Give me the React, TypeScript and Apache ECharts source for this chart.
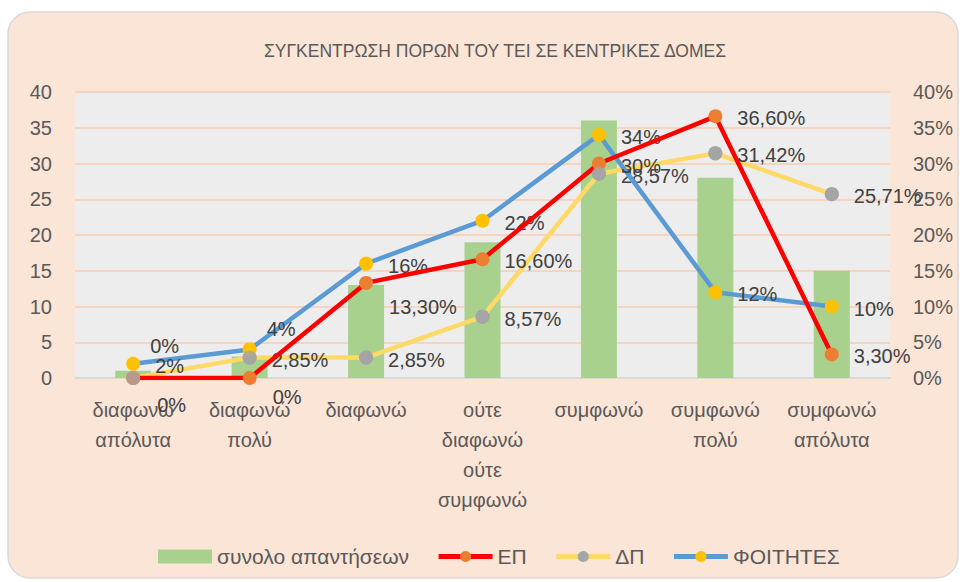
import React, { useEffect, useRef } from 'react';
import * as echarts from 'echarts';

// Response categories (multi-line axis labels)
const categories = [
  'διαφωνώ\nαπόλυτα',
  'διαφωνώ\nπολύ',
  'διαφωνώ',
  'ούτε\nδιαφωνώ\nούτε\nσυμφωνώ',
  'συμφωνώ',
  'συμφωνώ\nπολύ',
  'συμφωνώ\nαπόλυτα',
];

// Total answers per category (left axis)
const totalResponses = [1, 3, 13, 19, 36, 28, 15];

// Percentages per group (right axis, %)
const epShares = [0, 0, 13.3, 16.6, 30, 36.6, 3.3];
const dpShares = [0, 2.85, 2.85, 8.57, 28.57, 31.42, 25.71];
const studentShares = [2, 4, 16, 22, 34, 12, 10];

const leftTicks = { min: 0, max: 40, interval: 5 };
const rightTicks = { min: 0, max: 40, interval: 5 };

const FONT = "'Liberation Sans', Arial, sans-serif";
const TEXT = '#595959';
const LABEL_TEXT = '#404040';

// Per-point label nudges (index -> [dx, dy]) to keep crowded labels apart
const epNudges: Record<number, [number, number]> = { 0: [2, 27], 1: [1, 19], 2: [1, 24] };
const dpNudges: Record<number, [number, number]> = { 0: [-5, -32] };
const studentNudges: Record<number, [number, number]> = { 1: [-5, -20] };

const pct = (v: number) =>
  Number.isInteger(v) ? `${v}%` : `${v.toFixed(2).replace('.', ',')}%`;

function withLabels(values: number[], nudges: Record<number, [number, number]>) {
  return values.map((v, i) => ({
    value: v,
    label: { offset: nudges[i] ?? [0, 2] },
  }));
}

const baseLabel = {
  show: true,
  position: 'right' as const,
  distance: 15,
  color: LABEL_TEXT,
  fontFamily: FONT,
  fontSize: 20,
  formatter: (p: any) => pct(p.value as number),
};

export default function App() {
  const ref = useRef<HTMLDivElement>(null);

  useEffect(() => {
    const chart = echarts.init(ref.current!, null, { renderer: 'svg' });
    chart.setOption({
      animation: false,
      backgroundColor: '#ffffff',
      textStyle: { fontFamily: FONT },
      graphic: [
        {
          type: 'rect',
          z: -10,
          silent: true,
          shape: { x: 8, y: 12, width: 950, height: 566, r: 22 },
          style: { fill: '#FBE5D6', stroke: '#D9D9D9', lineWidth: 1.5 },
        },
      ],
      title: {
        text: 'ΣΥΓΚΕΝΤΡΩΣΗ ΠΟΡΩΝ ΤΟΥ ΤΕΙ ΣΕ ΚΕΝΤΡΙΚΕΣ ΔΟΜΕΣ',
        left: 490,
        textAlign: 'center',
        top: 37,
        textStyle: { color: TEXT, fontFamily: FONT, fontSize: 17.5, fontWeight: 'normal' },
      },
      legend: {
        left: 153,
        top: 541,
        itemWidth: 54,
        itemHeight: 14,
        itemGap: 27,
        lineStyle: { width: 5 },
        textStyle: { color: TEXT, fontFamily: FONT, fontSize: 21 },
        data: [
          { name: 'συνολο απαντήσεων', icon: 'rect' },
          { name: 'ΕΠ' },
          { name: 'ΔΠ' },
          { name: 'ΦΟΙΤΗΤΕΣ' },
        ],
      },
      grid: {
        left: 75,
        right: 72,
        top: 92,
        bottom: 204,
        show: true,
        backgroundColor: '#EDEDED',
        borderWidth: 0,
      },
      xAxis: {
        type: 'category',
        data: categories,
        axisTick: { show: false },
        axisLine: { show: true, lineStyle: { color: '#D9D9D9', width: 2 } },
        axisLabel: {
          color: TEXT,
          fontFamily: FONT,
          fontSize: 20,
          lineHeight: 30,
          margin: 17,
          interval: 0,
        },
      },
      yAxis: [
        {
          type: 'value',
          ...leftTicks,
          axisLine: { show: false },
          axisTick: { show: false },
          splitLine: { lineStyle: { color: '#F8CBAD', width: 1.5 } },
          axisLabel: { color: TEXT, fontFamily: FONT, fontSize: 20, margin: 23 },
        },
        {
          type: 'value',
          ...rightTicks,
          position: 'right',
          axisLine: { show: false },
          axisTick: { show: false },
          splitLine: { show: false },
          axisLabel: {
            color: TEXT,
            fontFamily: FONT,
            fontSize: 20,
            margin: 23,
            formatter: '{value}%',
          },
        },
      ],
      series: [
        {
          name: 'συνολο απαντήσεων',
          type: 'bar',
          data: totalResponses,
          barWidth: 36,
          itemStyle: { color: '#A9D18E' },
          z: 1,
        },
        {
          name: 'ΕΠ',
          type: 'line',
          yAxisIndex: 1,
          data: withLabels(epShares, epNudges),
          symbol: 'circle',
          symbolSize: 14,
          lineStyle: { color: '#FF0000', width: 4.5 },
          itemStyle: { color: '#ED7D31' },
          label: baseLabel,
          z: 5,
        },
        {
          name: 'ΔΠ',
          type: 'line',
          yAxisIndex: 1,
          data: withLabels(dpShares, dpNudges),
          symbol: 'circle',
          symbolSize: 14,
          lineStyle: { color: '#FFD966', width: 4.5 },
          itemStyle: { color: '#A5A5A5' },
          label: baseLabel,
          z: 3,
        },
        {
          name: 'ΦΟΙΤΗΤΕΣ',
          type: 'line',
          yAxisIndex: 1,
          data: withLabels(studentShares, studentNudges),
          symbol: 'circle',
          symbolSize: 14,
          lineStyle: { color: '#5B9BD5', width: 4.5 },
          itemStyle: { color: '#FFC000' },
          label: baseLabel,
          z: 4,
        },
        {
          // ΔΠ markers drawn again above the ΕΠ line
          name: 'ΔΠ',
          type: 'scatter',
          yAxisIndex: 1,
          data: dpShares,
          symbol: 'circle',
          symbolSize: 14,
          itemStyle: { color: '#A5A5A5' },
          silent: true,
          z: 6,
        },
      ],
    });
    return () => chart.dispose();
  }, []);

  return (
    <div
      ref={ref}
      style={{ position: 'absolute', left: 0, top: 0, width: 962, height: 582 }}
    />
  );
}
